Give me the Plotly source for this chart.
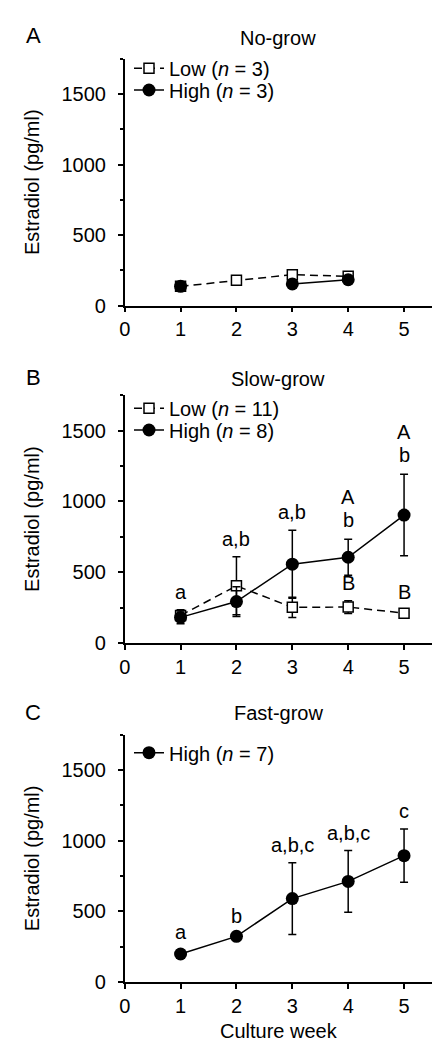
import plotly.graph_objects as go

weeks = [1, 2, 3, 4, 5]

# Panel A: No-grow
A_low = [137, 180, 220, 208, None]
A_low_err = [15, 15, 25, 20, None]
A_high = [137, None, 154, 184, None]
A_high_err = [20, None, 25, 20, None]

# Panel B: Slow-grow
B_low = [195, 404, 252, 254, 211]
B_low_err = [40, 205, 72, 45, 25]
B_high = [181, 293, 557, 606, 904]
B_high_err = [45, 105, 240, 127, 288]
B_high_labels = ["a", "a,b", "a,b", "b", "b"]
B_high_upper = ["", "", "", "A", "A"]
B_low_labels = ["", "", "", "B", "B"]

# Panel C: Fast-grow
C_high = [198, 323, 590, 712, 894]
C_high_err = [30, 20, 253, 218, 189]
C_high_labels = ["a", "b", "a,b,c", "a,b,c", "c"]

panel_titles = ["No-grow", "Slow-grow", "Fast-grow"]
panel_letters = ["A", "B", "C"]
legend_low_names = ["Low (<i>n</i> = 3)", "Low (<i>n</i> = 11)"]
legend_high_names = ["High (<i>n</i> = 3)", "High (<i>n</i> = 8)", "High (<i>n</i> = 7)"]

FONT = "Liberation Sans, Arial, Helvetica, sans-serif"
W, H = 448, 1050

def px(v):
    return v / W

def py(v):
    return 1 - v / H

# layout geometry (pixels)
x_left, x_right = 116.7, 424
panels = [(50.7, 297.7), (387.3, 635), (726.7, 974)]  # (top, bottom)
title_y = [30, 370.7, 705]
letter_y = [28, 369, 704]
legend_rows = [(68.3, 90), (408.3, 430), (None, 752.7)]
LEG_DY = -8

fig = go.Figure()

def low_trace(y, err, name, xa, ya, leg):
    return go.Scatter(
        x=weeks, y=y, name=name, xaxis=xa, yaxis=ya, legend=leg, showlegend=True,
        mode="lines+markers", connectgaps=False,
        line=dict(color="black", width=1.5, dash="8px,5px"),
        marker=dict(symbol="square", size=10, color="white",
                    line=dict(color="black", width=1.5)),
        error_y=dict(type="data", array=err, visible=True, color="black",
                     thickness=1.5, width=4),
    )

def high_trace(y, err, name, xa, ya, leg):
    return go.Scatter(
        x=weeks, y=y, name=name, xaxis=xa, yaxis=ya, legend=leg, showlegend=True,
        mode="lines+markers", connectgaps=False,
        line=dict(color="black", width=1.5),
        marker=dict(symbol="circle", size=13, color="black"),
        error_y=dict(type="data", array=err, visible=True, color="black",
                     thickness=1.5, width=4),
    )

fig.add_trace(low_trace(A_low, A_low_err, legend_low_names[0], "x", "y", "legend"))
fig.add_trace(high_trace(A_high, A_high_err, legend_high_names[0], "x", "y", "legend2"))
fig.add_trace(low_trace(B_low, B_low_err, legend_low_names[1], "x2", "y2", "legend3"))
fig.add_trace(high_trace(B_high, B_high_err, legend_high_names[1], "x2", "y2", "legend4"))
fig.add_trace(high_trace(C_high, C_high_err, legend_high_names[2], "x3", "y3", "legend5"))

def xaxis_def(anchor, title=None):
    d = dict(
        domain=[px(x_left), px(x_right)], anchor=anchor, range=[0, 5.5],
        tick0=0, dtick=1, ticks="outside", ticklen=5, tickwidth=1.5,
        tickcolor="black", showline=True, linecolor="black", linewidth=1.5,
        showgrid=False, zeroline=False, tickfont=dict(size=20, color="black"),
        automargin=False,
    )
    if title:
        d["title"] = dict(text=title, font=dict(size=20, color="black"), standoff=8)
    return d

def yaxis_def(anchor, top, bottom):
    return dict(
        domain=[py(bottom), py(top)], anchor=anchor, range=[0, 1750],
        tick0=0, dtick=500, ticks="outside", ticklen=5, tickwidth=1.5,
        tickcolor="black", showline=True, linecolor="black", linewidth=1.5,
        minor=dict(dtick=250, ticks="outside", ticklen=3, tickwidth=1.5, tickcolor="black"),
        showgrid=False, zeroline=False, tickfont=dict(size=20, color="black"),
        ticklabelstandoff=8, automargin=False,
        title=dict(text="Estradiol (pg/ml)", font=dict(size=20, color="black"), standoff=16),
    )

layout = dict(
    width=W, height=H, margin=dict(l=0, r=0, t=0, b=0),
    paper_bgcolor="white", plot_bgcolor="white", showlegend=True,
    font=dict(family=FONT, size=20, color="black"),
    xaxis=xaxis_def("y"), yaxis=yaxis_def("x", *panels[0]),
    xaxis2=xaxis_def("y2"), yaxis2=yaxis_def("x2", *panels[1]),
    xaxis3=xaxis_def("y3", "Culture week"), yaxis3=yaxis_def("x3", *panels[2]),
)

def legend_def(row_y):
    return dict(x=px(121), y=py(row_y + LEG_DY), xanchor="left", yanchor="middle",
                bgcolor="rgba(0,0,0,0)", borderwidth=0, visible=True,
                font=dict(size=20, color="black", family=FONT),
                itemclick=False, itemdoubleclick=False)

layout["legend"] = legend_def(legend_rows[0][0])
layout["legend2"] = legend_def(legend_rows[0][1])
layout["legend3"] = legend_def(legend_rows[1][0])
layout["legend4"] = legend_def(legend_rows[1][1])
layout["legend5"] = legend_def(legend_rows[2][1])
fig.update_layout(**layout)

ann = []
for i in range(3):
    ann.append(dict(text=panel_titles[i], x=px((x_left + x_right) / 2), y=py(title_y[i]),
                    xref="paper", yref="paper", showarrow=False, xanchor="center",
                    yanchor="middle", font=dict(size=20)))
    ann.append(dict(text=panel_letters[i], x=px(25.3), y=py(letter_y[i]),
                    xref="paper", yref="paper", showarrow=False, xanchor="center",
                    yanchor="middle", font=dict(size=22)))

def label(x, y, text, xr, yr, shift):
    return dict(text=text, x=x, y=y, xref=xr, yref=yr, showarrow=False,
                xanchor="center", yanchor="bottom", yshift=shift, font=dict(size=20))

SH = 5
for i, w in enumerate(weeks):
    top_hi = B_high[i] + B_high_err[i]
    top_lo = B_low[i] + B_low_err[i]
    base = max(top_hi, top_lo)
    stacked = bool(B_high_upper[i])
    if B_high_labels[i]:
        ann.append(label(w, base, B_high_labels[i], "x2", "y2", SH + (1 if stacked else 0)))
    if stacked:
        ann.append(label(w, base, B_high_upper[i], "x2", "y2", SH + 24))
    if B_low_labels[i]:
        ann.append(label(w, top_lo, B_low_labels[i], "x2", "y2", SH))
    if C_high_labels[i]:
        ann.append(label(w, C_high[i] + C_high_err[i], C_high_labels[i], "x3", "y3", SH))

fig.update_layout(annotations=ann)
fig.write_html("out.html")
